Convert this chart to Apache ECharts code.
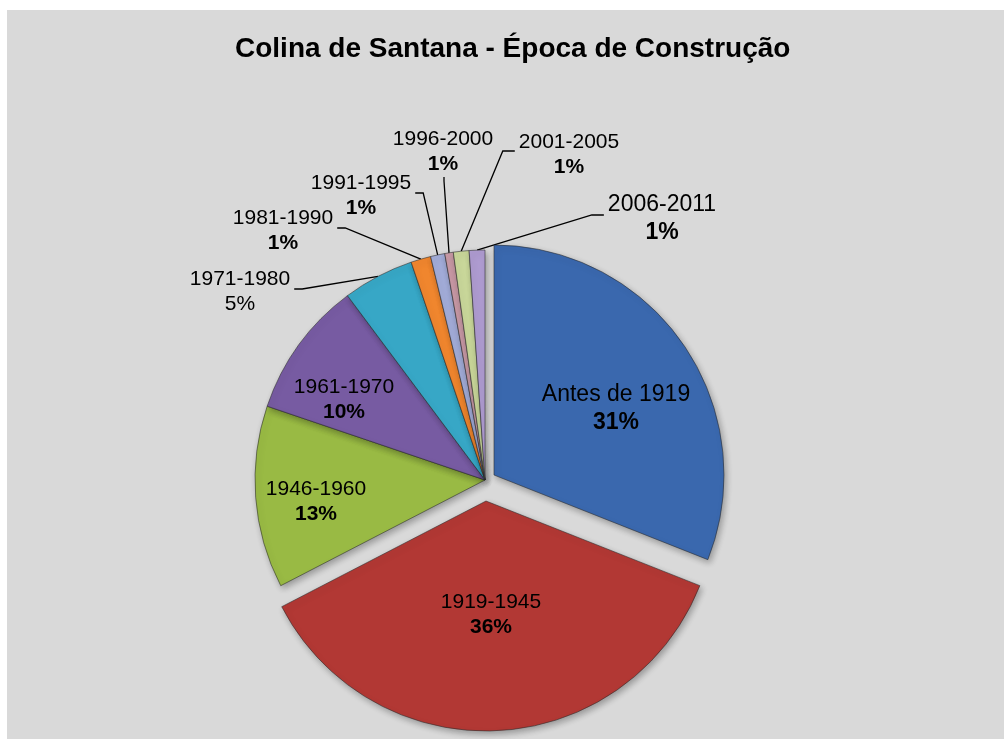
<!DOCTYPE html>
<html>
<head>
<meta charset="utf-8">
<script src="https://cdn.jsdelivr.net/npm/echarts@6/dist/echarts.min.js"></script>
<style>
  html, body { margin: 0; padding: 0; background: #fff; }
  #chart { position: absolute; left: 7px; top: 10px; width: 997px; height: 729px; }
</style>
</head>
<body>
<div id="chart"></div>
<script>
// dados
const categories = ['Antes de 1919', '1919-1945', '1946-1960', '1961-1970', '1971-1980',
                    '1981-1990', '1991-1995', '1996-2000', '2001-2005', '2006-2011'];
const shares = [31.0, 36.4, 12.8, 9.6, 5.0, 1.4, 1.0, 0.6, 1.1, 1.1];

// estilo
const colors = ['#3a68ae', '#b23834', '#99ba44', '#775ba2', '#37a7c6',
                '#f0862e', '#a2acd8', '#c99aa6', '#c9d79a', '#ae9bd0'];
const insideLabels = ['Antes de 1919', '1919-1945', '1946-1960', '1961-1970'];
const bigLabels = ['Antes de 1919', '2006-2011'];
const plainPct = ['1971-1980'];
// label block centre (page px) and side where the leader line attaches
const labelSpots = [
    [616, 409, ''], [491, 615, ''], [316, 502, ''], [344, 400, ''],
    [240, 292, 'right'], [283, 231, 'right'], [361, 196, 'right'],
    [443, 152, 'bottom'], [569, 155, 'left'], [662, 219, 'left']
];
const OX = 7, OY = 10;   // chart div offset in the page
const R = 230;
const FONT = '"Liberation Sans", Arial, sans-serif';

function placeLabel(p) {
    const spot = labelSpots[p.dataIndex];
    const x = spot[0] - OX, y = spot[1] - OY;
    const res = { x: x, y: y, align: 'center', verticalAlign: 'middle' };
    if (spot[2] && p.labelLinePoints) {
        const start = p.labelLinePoints[0];
        const w = p.labelRect.width, h = p.labelRect.height;
        let end, elbow;
        if (spot[2] === 'right') {
            end = [x + w / 2 + 4, y - 3];
            elbow = [end[0] + 8, end[1]];
        } else if (spot[2] === 'left') {
            end = [x - w / 2 - 4, y - 4];
            elbow = [end[0] - 12, end[1]];
        } else {
            end = [x + 1, y + h / 2 + 2];
            elbow = [x + 1, y + h / 2 + 6];
        }
        res.labelLinePoints = [start, elbow, end];
    }
    return res;
}

function pieSeries(center, isVisible) {
    return {
        type: 'pie',
        center: [center[0] - OX, center[1] - OY],
        radius: R,
        startAngle: 90,
        clockwise: true,
        avoidLabelOverlap: false,
        animation: false,
        emphasis: { disabled: true },
        labelLayout: placeLabel,
        data: categories.map(function (name, i) {
            const on = isVisible(name);
            const inside = insideLabels.indexOf(name) >= 0;
            const fs = bigLabels.indexOf(name) >= 0 ? 23 : 21;
            const lh = Math.round(fs * 1.2);
            return {
                name: name,
                value: shares[i],
                itemStyle: on ? {
                    color: colors[i],
                    borderColor: 'rgba(40,40,40,0.55)',
                    borderWidth: 1,
                    shadowBlur: 6,
                    shadowColor: 'rgba(0,0,0,0.3)',
                    shadowOffsetX: 2,
                    shadowOffsetY: 3
                } : { color: 'rgba(0,0,0,0)', borderWidth: 0 },
                label: {
                    show: on,
                    position: inside ? 'inside' : 'outside',
                    color: '#000',
                    fontFamily: FONT,
                    formatter: function (p) {
                        const key = plainPct.indexOf(p.name) >= 0 ? 'n' : 'b';
                        return '{n|' + p.name + '}\n{' + key + '|' + Math.round(p.percent) + '%}';
                    },
                    rich: {
                        n: { fontSize: fs, lineHeight: lh, fontFamily: FONT, color: '#000' },
                        b: { fontSize: fs, lineHeight: lh, fontFamily: FONT, color: '#000', fontWeight: 'bold' }
                    }
                },
                labelLine: {
                    show: on && !inside,
                    lineStyle: { color: '#000', width: 1.3 }
                }
            };
        })
    };
}

const chart = echarts.init(document.getElementById('chart'));
chart.setOption({
    backgroundColor: '#d9d9d9',
    title: {
        text: 'Colina de Santana - Época de Construção',
        left: 228,
        top: 25,
        padding: 0,
        textStyle: { fontFamily: FONT, fontSize: 28, fontWeight: 'bold', color: '#000' }
    },
    series: [
        pieSeries([485, 480], function (n) { return n !== 'Antes de 1919' && n !== '1919-1945'; }),
        pieSeries([494, 475], function (n) { return n === 'Antes de 1919'; }),
        pieSeries([486, 501], function (n) { return n === '1919-1945'; })
    ]
});
</script>
</body>
</html>
